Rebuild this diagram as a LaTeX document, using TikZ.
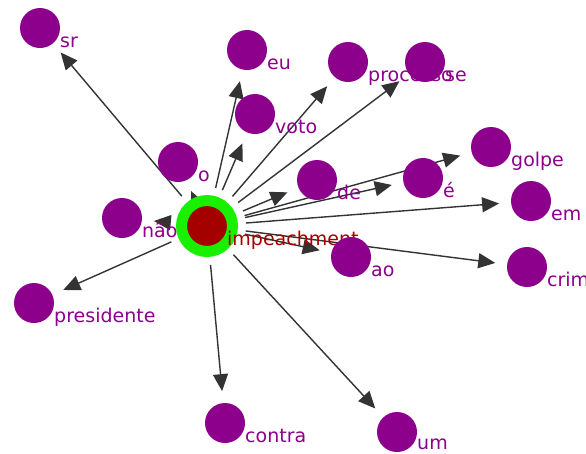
\documentclass[tikz,border=0pt]{standalone}
\usepackage{fontspec}
\setsansfont{DejaVu Sans}
\usepackage{xcolor}
\usetikzlibrary{arrows.meta, backgrounds}

\definecolor{wordpurple}{RGB}{140,0,140}
\definecolor{rootred}{RGB}{165,0,0}
\definecolor{rootgreen}{RGB}{25,240,0}
\definecolor{edgegray}{RGB}{51,51,51}

\begin{document}
\begin{tikzpicture}[
        x=1pt, y=-1pt,
        word/.style={circle, fill=wordpurple, minimum size=40pt, inner sep=0pt, outer sep=0pt},
        root/.style={circle, fill=rootred, draw=rootgreen, line width=11pt, minimum size=51pt, inner sep=0pt},
        lbl/.style={anchor=base west, inner sep=0pt, text=wordpurple, font=\sffamily\fontsize{19}{19}\selectfont},
        arrow/.style={-{Triangle[length=17pt, width=15pt]}, line width=1.4pt, draw=edgegray, shorten <=8pt, shorten >=12pt}
    ]
    \path[use as bounding box, clip] (0,0) rectangle (586,453);

    % root word
    \node (imp) [root] at (207,226) {};
    \node (imp-l) [lbl, text=rootred] at (227,245) {impeachment};

    % neighbour words
    \node (sr) [word] at (40,28) {};
    \node (sr-l) [lbl] at (60,47) {sr};
    \node (o) [word] at (178,162) {};
    \node (o-l) [lbl] at (198,181) {o};
    \node (nao) [word] at (122,218) {};
    \node (nao-l) [lbl] at (142,237) {não};
    \node (presidente) [word] at (34,303) {};
    \node (presidente-l) [lbl] at (54,322) {presidente};
    \node (eu) [word] at (247,50) {};
    \node (eu-l) [lbl] at (267,69) {eu};
    \node (voto) [word] at (255,114) {};
    \node (voto-l) [lbl] at (275,133) {voto};
    \node (processo) [word] at (348,62) {};
    \node (processo-l) [lbl] at (368,81) {processo};
    \node (se) [word] at (425,62) {};
    \node (se-l) [lbl] at (445,81) {se};
    \node (de) [word] at (317,180) {};
    \node (de-l) [lbl] at (337,199) {de};
    \node (eh) [word] at (423,178) {};
    \node (eh-l) [lbl] at (443,197) {é};
    \node (golpe) [word] at (491,147) {};
    \node (golpe-l) [lbl] at (511,166) {golpe};
    \node (em) [word] at (531,201) {};
    \node (em-l) [lbl] at (551,220) {em};
    \node (ao) [word] at (351,257) {};
    \node (ao-l) [lbl] at (371,276) {ao};
    \node (crime) [word] at (527,267) {};
    \node (crime-l) [lbl] at (547,286) {crime};
    \node (contra) [word] at (225,423) {};
    \node (contra-l) [lbl] at (245,442) {contra};
    \node (um) [word] at (397,432) {};
    \node (um-l) [lbl] at (417,449) {um};

    \begin{scope}[on background layer]
    \draw[arrow] (imp) -- (sr);
    \draw[arrow] (imp) -- (o);
    \draw[arrow] (imp) -- (nao);
    \draw[arrow] (imp) -- (presidente);
    \draw[arrow] (imp) -- (eu);
    \draw[arrow] (imp) -- (voto);
    \draw[arrow] (imp) -- (processo);
    \draw[arrow] (imp) -- (se);
    \draw[arrow] (imp) -- (de);
    \draw[arrow] (imp) -- (eh);
    \draw[arrow] (imp) -- (golpe);
    \draw[arrow] (imp) -- (em);
    \draw[arrow] (imp) -- (ao);
    \draw[arrow] (imp) -- (crime);
    \draw[arrow] (imp) -- (contra);
    \draw[arrow] (imp) -- (um);
    \end{scope}
\end{tikzpicture}
\end{document}
